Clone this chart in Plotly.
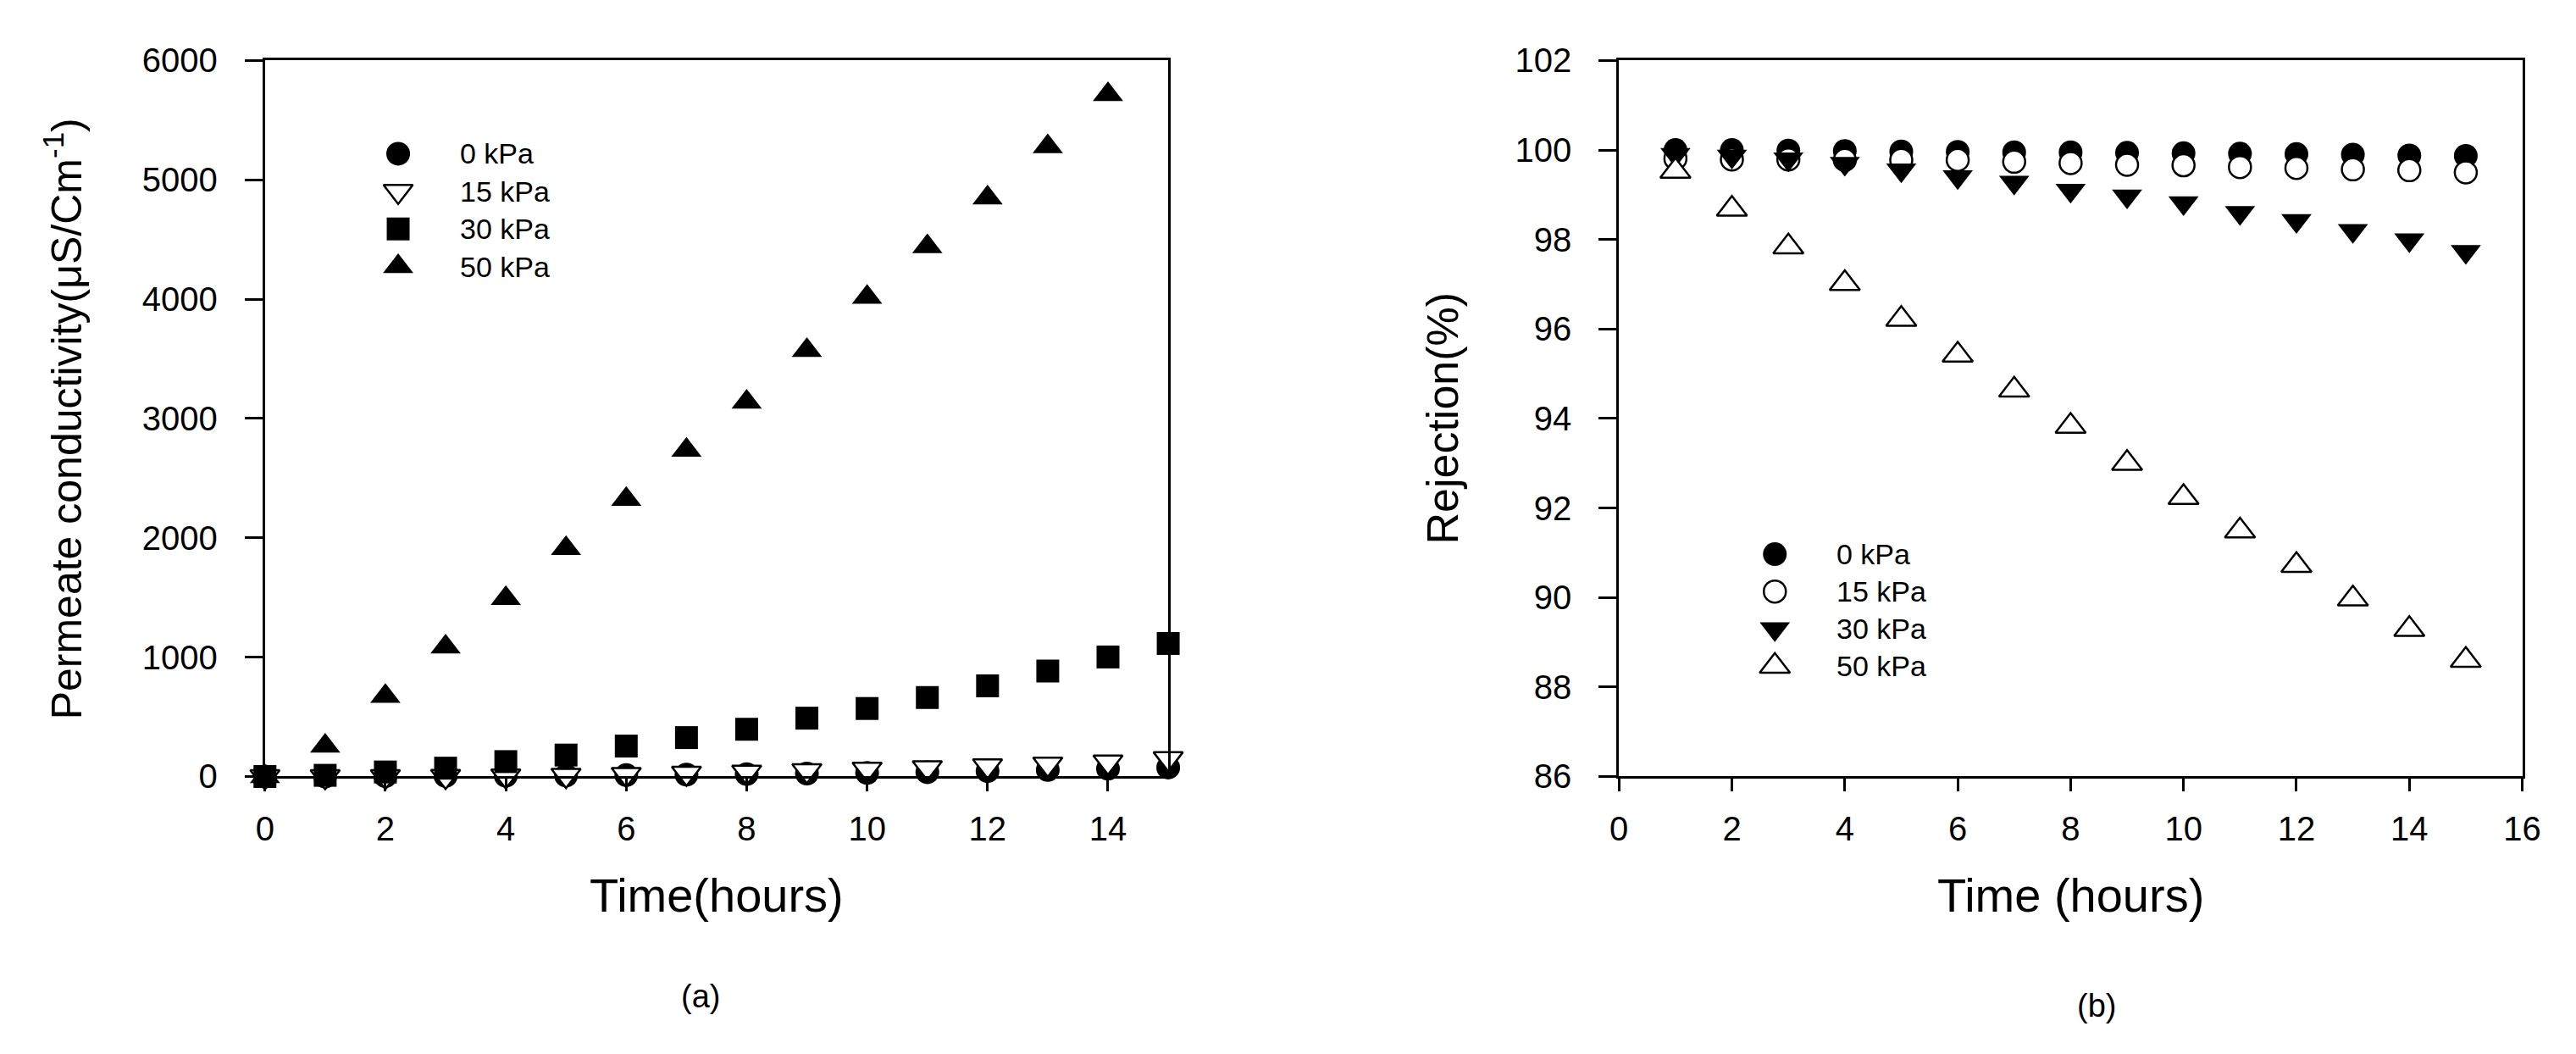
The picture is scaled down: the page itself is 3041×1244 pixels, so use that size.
import plotly.graph_objects as go

W, H = 3041, 1244

# ---- data ----
series = ["0 kPa", "15 kPa", "30 kPa", "50 kPa"]

time_a = list(range(0, 16))
cond_0 = [0, 0, 2, 4, 6, 8, 12, 16, 20, 25, 30, 36, 45, 55, 65, 75]
cond_15 = [0, 0, 0, 2, 5, 10, 18, 28, 38, 50, 62, 75, 90, 105, 122, 150]
cond_30 = [0, 10, 38, 70, 125, 180, 255, 326, 396, 489, 570, 662, 760, 884, 1002, 1115]
cond_50 = [0, 255, 673, 1086, 1493, 1911, 2324, 2736, 3138, 3572, 4017, 4441, 4849, 5280, 5716]

time_b = list(range(1, 16))
rej_0 = [100.0, 100.0, 99.99, 99.98, 99.97, 99.96, 99.95, 99.95, 99.94, 99.93, 99.92, 99.91, 99.9, 99.88, 99.87]
rej_15 = [99.81, 99.79, 99.79, 99.78, 99.78, 99.78, 99.74, 99.71, 99.67, 99.66, 99.62, 99.6, 99.57, 99.55, 99.5]
rej_30 = [99.9, 99.86, 99.8, 99.7, 99.55, 99.4, 99.28, 99.1, 98.97, 98.82, 98.6, 98.42, 98.2, 97.99, 97.73]
rej_50 = [99.53, 98.68, 97.84, 97.02, 96.22, 95.42, 94.64, 93.83, 93.0, 92.24, 91.49, 90.72, 89.97, 89.29, 88.6]

FONT = "Liberation Sans, Arial, sans-serif"

# marker styles per panel
style_a = [
    dict(symbol="circle", size=28, color="black"),
    dict(symbol="triangle-down", size=30, color="white", line=dict(color="black", width=2.5)),
    dict(symbol="square", size=27, color="black"),
    dict(symbol="triangle-up", size=31, color="black"),
]
style_b = [
    dict(symbol="circle", size=28, color="black"),
    dict(symbol="circle", size=26, color="white", line=dict(color="black", width=2.5)),
    dict(symbol="triangle-down", size=31, color="black"),
    dict(symbol="triangle-up", size=31, color="white", line=dict(color="black", width=2.5)),
]

fig = go.Figure()

ys_a = [cond_0, cond_15, cond_30, cond_50]
for name, y, st in zip(series, ys_a, style_a):
    fig.add_trace(go.Scatter(x=time_a[:len(y)], y=y, mode="markers", name=name,
                             marker=st, xaxis="x", yaxis="y", showlegend=False,
                             cliponaxis=False))

ys_b = [rej_0, rej_15, rej_30, rej_50]
for name, y, st in zip(series, ys_b, style_b):
    fig.add_trace(go.Scatter(x=time_b, y=y, mode="markers", name=name,
                             marker=st, xaxis="x2", yaxis="y2", showlegend=False,
                             cliponaxis=False))

# legend keys drawn on small hidden axes so the symbols keep their full size
rows = [3, 2, 1, 0]
annots = []
for i, (name, st_a, st_b) in enumerate(zip(series, style_a, style_b)):
    fig.add_trace(go.Scatter(x=[0], y=[rows[i]], mode="markers", marker=st_a,
                             xaxis="x3", yaxis="y3", showlegend=False, cliponaxis=False))
    fig.add_trace(go.Scatter(x=[0], y=[rows[i]], mode="markers", marker=st_b,
                             xaxis="x4", yaxis="y4", showlegend=False, cliponaxis=False))
    annots.append(dict(x=1, y=rows[i], xref="x3", yref="y3", text=name, showarrow=False,
                       xanchor="left", yanchor="middle", font=dict(size=34)))
    annots.append(dict(x=1, y=rows[i], xref="x4", yref="y4", text=name, showarrow=False,
                       xanchor="left", yanchor="middle", font=dict(size=34)))


def px_x(p):
    return p / W


def px_y(p):
    return 1 - p / H


ydom = [px_y(919), px_y(43)]
axis_common = dict(showline=True, linecolor="black", linewidth=3, mirror=True,
                   showgrid=False, zeroline=False, ticks="outside", tickcolor="black",
                   tickwidth=2.5, tickfont=dict(size=40, color="black"))

fig.update_layout(
    width=W, height=H,
    paper_bgcolor="white", plot_bgcolor="white",
    margin=dict(l=0, r=0, t=0, b=0),
    font=dict(family=FONT, color="black"),
    showlegend=False,
    xaxis=dict(domain=[px_x(297), px_x(1375)], range=[0, 15], tickvals=list(range(0, 15, 2)),
               anchor="y", ticklen=15, ticklabelstandoff=10, **axis_common),
    yaxis=dict(domain=ydom, range=[0, 6000], dtick=1000, anchor="x",
               ticklen=21, ticklabelstandoff=24, **axis_common),
    xaxis2=dict(domain=[px_x(1913), px_x(2991)], range=[0, 16], dtick=2,
                anchor="y2", ticklen=15, ticklabelstandoff=10, **axis_common),
    yaxis2=dict(domain=ydom, range=[86, 102], dtick=2, anchor="x2",
                ticklen=21, ticklabelstandoff=24, **axis_common),
    xaxis3=dict(domain=[px_x(456), px_x(528)], range=[0, 1], visible=False, anchor="y3"),
    yaxis3=dict(domain=[px_y(295), px_y(157)], range=[0, 3], visible=False, anchor="x3"),
    xaxis4=dict(domain=[px_x(2099), px_x(2171)], range=[0, 1], visible=False, anchor="y4"),
    yaxis4=dict(domain=[px_y(784), px_y(647)], range=[0, 3], visible=False, anchor="x4"),
)

titles = [
    dict(x=px_x(836), y=px_y(1064), text="Time(hours)", font=dict(size=56)),
    dict(x=px_x(2452), y=px_y(1064), text="Time (hours)", font=dict(size=56)),
    dict(x=px_x(57), y=px_y(481), text="Permeate conductivity(\u03bcS/Cm<sup>-1</sup>)",
         font=dict(size=50), textangle=-90),
    dict(x=px_x(1702), y=px_y(481), text="Rejection(%)", font=dict(size=52), textangle=-90),
    dict(x=px_x(817), y=px_y(1188), text="(a)", font=dict(size=38)),
    dict(x=px_x(2483), y=px_y(1199), text="(b)", font=dict(size=38)),
]
for t in titles:
    annots.append(dict(xref="paper", yref="paper", showarrow=False,
                       xanchor="center", yanchor="middle", **t))

fig.update_layout(annotations=annots)

fig.write_html("out.html")
